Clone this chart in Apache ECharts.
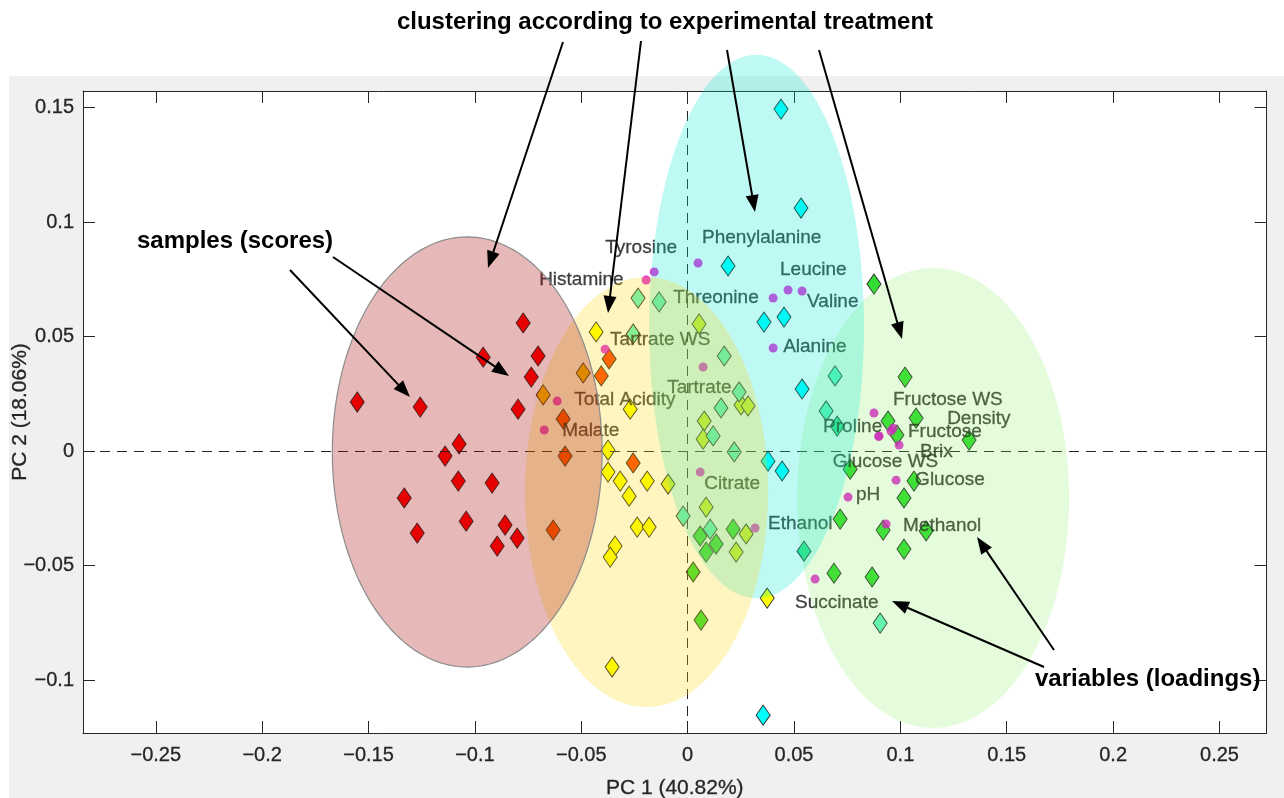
<!DOCTYPE html>
<html>
<head>
<meta charset="utf-8">
<script src="https://cdn.jsdelivr.net/npm/echarts/dist/echarts.min.js"></script>
<style>
  html, body { margin: 0; padding: 0; background: #ffffff; }
  #panel { position: absolute; left: 9px; top: 76px; width: 1275px; height: 722px; background: #f0f0f0; }
  #chart { position: absolute; left: 0; top: 0; width: 1284px; height: 798px; }
</style>
</head>
<body>
<div id="panel"></div>
<div id="chart"></div>
<script>
// ---------------- DATA ----------------
const xAxisTitle = 'PC 1 (40.82%)';
const yAxisTitle = 'PC 2 (18.06%)';

// sample scores, grouped by treatment colour  [PC1, PC2]
const scoresRed = [[-0.0773,0.0559],[-0.0961,0.0410],[-0.0703,0.0415],[-0.0735,0.0323],[-0.1553,0.0214],[-0.1257,0.0192],[-0.0797,0.0183],[-0.1074,0.0031],[-0.1140,-0.0022],[-0.1078,-0.0131],[-0.0919,-0.0140],[-0.1332,-0.0205],[-0.1041,-0.0306],[-0.1271,-0.0358],[-0.0858,-0.0323],[-0.0801,-0.0380],[-0.0895,-0.0415]];
const scoresOrangeRed = [[-0.0369,0.0402],[-0.0406,0.0328],[-0.0585,0.0140],[-0.0576,-0.0022],[-0.0256,-0.0052],[-0.0632,-0.0345]];
const scoresOrange = [[-0.0491,0.0341],[-0.0679,0.0245]];
const scoresYellow = [[-0.0430,0.0520],[-0.0270,0.0183],[-0.0374,0.0004],[-0.0374,-0.0092],[-0.0317,-0.0131],[-0.0190,-0.0131],[-0.0275,-0.0197],[-0.0237,-0.0332],[-0.0181,-0.0332],[-0.0341,-0.0415],[-0.0364,-0.0463],[-0.0355,-0.0943],[0.0374,-0.0642]];
const scoresYellowGreen = [[-0.0092,-0.0144],[0.0054,0.0555],[0.0251,0.0201],[0.0284,0.0197],[0.0078,0.0131],[0.0073,0.0052],[0.0087,-0.0245],[0.0275,-0.0362],[0.0228,-0.0441]];
const scoresAquamarine = [[-0.0233,0.0668],[-0.0134,0.0651],[-0.0256,0.0511],[0.0172,0.0415],[0.0242,0.0258],[0.0157,0.0188],[0.0120,0.0066],[0.0219,-0.0004],[-0.0021,-0.0284],[0.0106,-0.0341],[0.0693,0.0328],[0.0651,0.0175],[0.0905,-0.0751]];
const scoresCyan = [[0.0439,0.1493],[0.0533,0.1061],[0.0190,0.0808],[0.0359,0.0563],[0.0453,0.0585],[0.0538,0.0271],[0.0378,-0.0044],[0.0444,-0.0087],[0.0355,-0.1153]];
const scoresGreenTeal = [[0.0703,0.0109],[0.0547,-0.0437]];
const scoresGreen = [[0.0876,0.0729],[0.1022,0.0323],[0.0942,0.0131],[0.1074,0.0144],[0.0984,0.0070],[0.1323,0.0048],[0.0764,-0.0079],[0.1064,-0.0131],[0.1017,-0.0205],[0.0717,-0.0297],[0.0919,-0.0345],[0.1121,-0.0349],[0.1017,-0.0428],[0.0688,-0.0533],[0.0867,-0.0550],[0.0059,-0.0371],[0.0214,-0.0341],[0.0134,-0.0406],[0.0087,-0.0441],[0.0026,-0.0528],[0.0063,-0.0738]];

// variable loadings
const loadingNames = ['Tyrosine','Histamine','Phenylalanine','Leucine','Valine','Threonine','Alanine','Tartrate WS','Tartrate','Total Acidity','Malate','Fructose WS','Proline','Density','Fructose','Brix','Glucose WS','Glucose','pH','Methanol','Citrate','Ethanol','Succinate'];
const loadingPC1 = [-0.0157,-0.0195,0.0049,0.0472,0.0538,0.0402,0.0402,-0.0388,0.0073,-0.0613,-0.0674,0.0876,0.0900,0.0966,0.0956,0.0994,0.0898,0.0980,0.0754,0.0933,0.0059,0.0317,0.0599];
const loadingPC2 = [0.0782,0.0747,0.0821,0.0703,0.0699,0.0668,0.0450,0.0445,0.0367,0.0218,0.0092,0.0166,0.0066,0.0100,0.0087,0.0026,0.0063,-0.0127,-0.0201,-0.0319,-0.0092,-0.0336,-0.0559];

// treatment cluster ellipses
const ellipseNames = ['green','cyan','yellow','red'];
const ellipseCX = [0.1154, 0.0324, -0.0193, -0.1036];
const ellipseCY = [-0.0205, 0.0544, -0.0179, -0.0004];
const ellipseRX = [0.0639, 0.0505, 0.0571, 0.0634];
const ellipseRY = [0.1004, 0.1186, 0.0939, 0.0939];

// annotation texts
const annTitle = 'clustering according to experimental treatment';
const annSamples = 'samples (scores)';
const annVariables = 'variables (loadings)';

// ---------------- STYLE / LAYOUT ----------------
const FONT = '"Liberation Sans", Arial, Helvetica, sans-serif';
const INK = '#262626';
const groupStyle = [
  [scoresRed, '#ff0000'],
  [scoresOrangeRed, '#ff4000'],
  [scoresOrange, '#f5b400'],
  [scoresYellow, '#ffff00'],
  [scoresYellowGreen, '#daf02a'],
  [scoresAquamarine, '#60f5c8'],
  [scoresCyan, '#00ffff'],
  [scoresGreenTeal, '#30e088'],
  [scoresGreen, '#33dd33']
];
const ellipseStyle = {
  green:  { fill: 'rgba(120,240,80,0.20)', stroke: null },
  cyan:   { fill: 'rgba(0,230,210,0.25)', stroke: null },
  yellow: { fill: 'rgba(251,215,3,0.25)', stroke: null },
  red:    { fill: 'rgba(166,5,0,0.28)', stroke: '#8c8c8c' }
};
// label placement (px) relative to the dot centre: text left edge dx, text middle dy
const labelOffset = {
  'Tyrosine':[-49,-24],'Histamine':[-107,0],'Phenylalanine':[4,-25],'Leucine':[-8,-20],'Valine':[5,11],
  'Threonine':[-100,0],'Alanine':[10,-1],'Tartrate WS':[5,-9],'Tartrate':[-36,21],'Total Acidity':[17,-1],
  'Malate':[18,1],'Fructose WS':[19,-13],'Proline':[-56,-9],'Density':[54,-9],'Fructose':[17,1],'Brix':[21,7],
  'Glucose WS':[-46,25],'Glucose':[19,0],'pH':[8,-2],'Methanol':[17,2],'Citrate':[4,12],'Ethanol':[13,-4],'Succinate':[-20,24]
};
const DOT = 9;

const chart = echarts.init(document.getElementById('chart'), null, { renderer: 'canvas' });

const X_MIN = -0.2842, X_MAX = 0.2721, Y_MIN = -0.1231, Y_MAX = 0.1572;

function fmt(v) {
  const r = Math.round(v / 0.05);
  if (Math.abs(v - r * 0.05) > 1e-6) return '';
  if (r === 0) return '0';
  const s = String(parseFloat((r * 0.05).toFixed(4)));
  return s.replace('-', '\u2212');
}

const axisCommon = {
  type: 'value',
  axisLine: { show: true, onZero: false, lineStyle: { color: INK, width: 1 } },
  axisTick: { show: true, inside: true, length: 12, lineStyle: { color: INK, width: 1 } },
  splitLine: { show: false }
};
const tickText = { fontFamily: FONT, fontSize: 20, color: INK, textBorderColor: INK, textBorderWidth: 0.3 };

const series = [];
groupStyle.forEach(function (g, i) {
  series.push({
    type: 'scatter',
    xAxisIndex: 0, yAxisIndex: 0,
    data: g[0],
    symbol: 'diamond',
    symbolSize: [14, 20],
    itemStyle: { color: g[1], borderColor: '#2e2e2e', borderWidth: 1, opacity: 1 },
    z: 3,
    silent: true,
    markLine: i === 0 ? {
      silent: true, symbol: 'none', animation: false,
      label: { show: false },
      lineStyle: { color: INK, width: 1, type: [10, 7] },
      data: [{ xAxis: 0 }, { yAxis: 0 }]
    } : undefined
  });
});

series.push({
  type: 'scatter',
  xAxisIndex: 0, yAxisIndex: 0,
  data: loadingNames.map(function (n, i) {
    const o = labelOffset[n] || [10, 0];
    return {
      name: n, value: [loadingPC1[i], loadingPC2[i]],
      label: { position: [DOT / 2 + o[0], DOT / 2 + o[1]], align: 'left', verticalAlign: 'middle' }
    };
  }),
  symbol: 'circle',
  symbolSize: DOT,
  itemStyle: { color: '#e000d2', borderWidth: 0 },
  label: {
    show: true, align: 'left', verticalAlign: 'middle',
    formatter: '{b}', fontFamily: FONT, fontSize: 19, color: '#141414',
    textBorderColor: '#141414', textBorderWidth: 0.3
  },
  z: 4,
  silent: true
});

ellipseNames.forEach(function (n, i) {
  const st = ellipseStyle[n];
  series.push({
    type: 'custom',
    xAxisIndex: 0, yAxisIndex: 0,
    data: [[ellipseCX[i], ellipseCY[i], ellipseRX[i], ellipseRY[i]]],
    clip: false,
    silent: true,
    z: 10 + i,
    renderItem: function (params, api) {
      const cx = api.value(0), cy = api.value(1), rx = api.value(2), ry = api.value(3);
      const pts = [];
      for (let k = 0; k < 180; k++) {
        const t = k / 180 * Math.PI * 2;
        pts.push(api.coord([cx + rx * Math.cos(t), cy + ry * Math.sin(t)]));
      }
      return {
        type: 'polygon',
        shape: { points: pts },
        style: { fill: st.fill, stroke: st.stroke || 'none', lineWidth: st.stroke ? 1.2 : 0 }
      };
    }
  });
});

// ---- annotation arrows (pixel layout) ----
const arrows = [
  [563, 42, 488, 268], [641, 41, 608, 313], [727, 50, 755, 212], [819, 50, 902, 339],
  [290, 270, 410, 397], [333, 257, 509, 376],
  [1054, 650, 977, 537], [1044, 667, 892, 601]
];
const graphics = [];
arrows.forEach(function (a) {
  const dx = a[2] - a[0], dy = a[3] - a[1];
  const L = Math.sqrt(dx * dx + dy * dy);
  const ux = dx / L, uy = dy / L;
  const hl = 17, hw = 6.5;
  const bx = a[2] - ux * hl, by = a[3] - uy * hl;
  graphics.push({
    type: 'line', z: 100,
    shape: { x1: a[0], y1: a[1], x2: bx + ux * 2, y2: by + uy * 2 },
    style: { stroke: '#000', lineWidth: 2 }
  });
  graphics.push({
    type: 'polygon', z: 100,
    shape: { points: [[a[2], a[3]], [bx - uy * hw, by + ux * hw], [bx + uy * hw, by - ux * hw]] },
    style: { fill: '#000' }
  });
});
graphics.push({ type: 'text', z: 100, x: 665, y: 22,
  style: { text: annTitle, font: 'bold 24px ' + FONT, fill: '#000', textAlign: 'center', textVerticalAlign: 'middle' } });
graphics.push({ type: 'text', z: 100, x: 137, y: 241,
  style: { text: annSamples, font: 'bold 24px ' + FONT, fill: '#000', textAlign: 'left', textVerticalAlign: 'middle' } });
graphics.push({ type: 'text', z: 100, x: 1035, y: 679,
  style: { text: annVariables, font: 'bold 24px ' + FONT, fill: '#000', textAlign: 'left', textVerticalAlign: 'middle' } });

chart.setOption({
  animation: false,
  backgroundColor: 'transparent',
  textStyle: { fontFamily: FONT },
  grid: { left: 83, top: 91, width: 1183.5, height: 642, show: true, backgroundColor: '#ffffff',
          borderWidth: 0, containLabel: false, outerBoundsMode: 'none' },
  xAxis: [
    Object.assign({}, axisCommon, {
      position: 'bottom', min: X_MIN, max: X_MAX, splitNumber: 10,
      axisLabel: Object.assign({ show: true, formatter: fmt, showMinLabel: false, showMaxLabel: false, margin: 12 }, tickText),
      name: xAxisTitle, nameLocation: 'middle', nameGap: 45,
      nameTextStyle: Object.assign({}, tickText, { fontSize: 21 })
    }),
    Object.assign({}, axisCommon, {
      position: 'top', min: X_MIN, max: X_MAX, splitNumber: 10,
      axisLabel: { show: false }
    })
  ],
  yAxis: [
    Object.assign({}, axisCommon, {
      position: 'left', min: Y_MIN, max: Y_MAX, splitNumber: 6,
      axisLabel: Object.assign({ show: true, formatter: fmt, showMinLabel: false, showMaxLabel: false, margin: 9 }, tickText),
      name: yAxisTitle, nameLocation: 'middle', nameGap: 52, nameRotate: 90, nameMoveOverlap: false,
      nameTextStyle: Object.assign({}, tickText, { fontSize: 21 })
    }),
    Object.assign({}, axisCommon, {
      position: 'right', min: Y_MIN, max: Y_MAX, splitNumber: 6,
      axisLabel: { show: false }
    })
  ],
  series: series,
  graphic: graphics
});
</script>
</body>
</html>
